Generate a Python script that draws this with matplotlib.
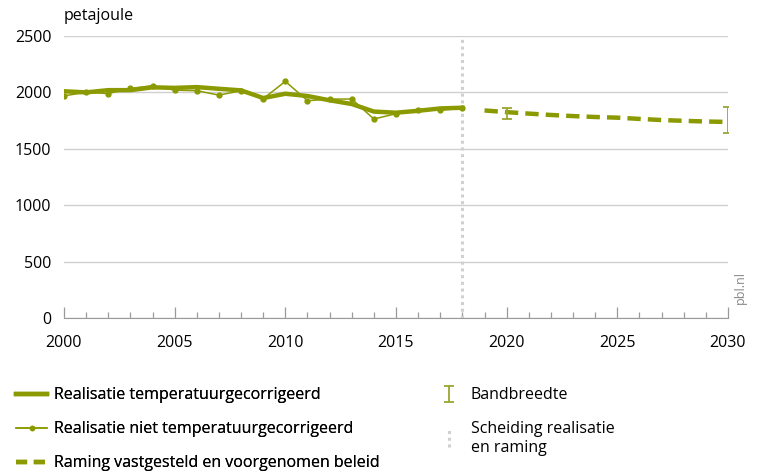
import matplotlib

matplotlib.use("Agg")

import matplotlib.pyplot as plt
from matplotlib.legend_handler import HandlerBase
from matplotlib.lines import Line2D

plt.rcParams["font.family"] = ["Open Sans", "DejaVu Sans"]

# realisatie 2000-2018
jaren = list(range(2000, 2019))
gecorrigeerd = [2010, 2000, 2020, 2020, 2045, 2040, 2047, 2032, 2018, 1950,
                1988, 1968, 1930, 1897, 1830, 1820, 1837, 1858, 1864]
niet_gecorrigeerd = [1970, 2000, 1990, 2035, 2059, 2020, 2015, 1976, 2015, 1944,
                     2098, 1926, 1941, 1941, 1764, 1811, 1843, 1843, 1858]

# raming 2019-2030
raming_jaren = list(range(2019, 2031))
raming = [1840, 1825, 1812, 1800, 1790, 1782, 1776, 1765, 1755, 1748, 1742, 1738]

# bandbreedte
band_jaren = [2020, 2030]
band_laag = [1765, 1640]
band_hoog = [1865, 1870]
band_mid = [1825, 1738]

scheiding_jaar = 2018

groen = "#8a9a00"
band_kleur = "#9aa630"
grijs = "#d0d0d0"


class VerticalLineHandler(HandlerBase):
    def create_artists(self, legend, orig_handle, xdescent, ydescent,
                       width, height, fontsize, trans):
        x = width / 2 - xdescent
        line = Line2D([x, x], [-ydescent - 0.25 * height, height * 1.25 - ydescent])
        line.update_from(orig_handle)
        line.set_transform(trans)
        return [line]


fig = plt.figure(figsize=(7.62, 4.74), dpi=100)
ax = fig.add_axes([64 / 762, 1 - 318 / 474, 664 / 762, 282 / 474])

ax.axvline(scheiding_jaar, color=grijs, linestyle=(0, (1.0, 1.2)), linewidth=2.2, zorder=1)
ax.plot(jaren, gecorrigeerd, color=groen, linewidth=3.2, zorder=3)
ax.plot(jaren, niet_gecorrigeerd, color=groen, linewidth=1.1, marker="o",
        markersize=3.5, zorder=4)
ax.plot(raming_jaren, raming, color=groen, linewidth=3.2, linestyle=(0, (3, 1.6)), zorder=3)
err = [[m - lo for m, lo in zip(band_mid, band_laag)],
       [hi - m for m, hi in zip(band_mid, band_hoog)]]
band = ax.errorbar(band_jaren, band_mid, yerr=err, fmt="none", ecolor=band_kleur,
                   elinewidth=1.3, capsize=3.5, capthick=1.3, zorder=5)

ax.set_xlim(2000, 2030)
ax.set_ylim(0, 2500)
ax.set_xticks(range(2000, 2031, 5))
ax.set_xticks(range(2000, 2031), minor=True)
ax.set_yticks(range(0, 2501, 500))
ax.tick_params(axis="x", which="major", direction="in", length=8, width=0.9,
               color="#999999", pad=12, labelsize=11.5)
ax.tick_params(axis="x", which="minor", direction="in", length=4, width=0.9,
               color="#999999")
ax.tick_params(axis="y", length=0, pad=9, labelsize=11.5)
ax.grid(axis="y", color="#d0d0d0", linewidth=1)
ax.set_axisbelow(True)
for side in ["top", "right", "left"]:
    ax.spines[side].set_visible(False)
ax.spines["bottom"].set_color("#999999")
ax.spines["bottom"].set_zorder(6)

fig.text(64 / 762, 1 - 16 / 474, "petajoule", fontsize=11.5, va="center", ha="left")
fig.text(740 / 762, 1 - 288 / 474, "pbl.nl", fontsize=9, color="#888888",
         rotation=90, ha="center", va="center")

h1 = Line2D([], [], color=groen, linewidth=3.2)
h2 = Line2D([], [], color=groen, linewidth=1.1, marker="o", markersize=3)
h3 = Line2D([], [], color=groen, linewidth=3.2, linestyle=(0, (2.5, 1.5)))
h5 = Line2D([], [], color=grijs, linewidth=2.2, linestyle=(0, (1.0, 1.2)))

leg1 = fig.legend([h1, h2, h3],
                  ["Realisatie temperatuurgecorrigeerd",
                   "Realisatie niet temperatuurgecorrigeerd",
                   "Raming vastgesteld en voorgenomen beleid"],
                  loc="upper left", bbox_to_anchor=(2 / 762, 1 - 373 / 474),
                  frameon=False, fontsize=11.5, handlelength=1.9,
                  handletextpad=0.45, labelspacing=1.12)
fig.add_artist(leg1)
fig.legend([band, h5], ["Bandbreedte", "Scheiding realisatie\nen raming"],
           loc="upper left", bbox_to_anchor=(423 / 762, 1 - 373 / 474),
           frameon=False, fontsize=11.5, handlelength=1.5,
           handletextpad=0.6, labelspacing=1.12,
           handler_map={h5: VerticalLineHandler()})

fig.savefig("out.png", dpi=100)
